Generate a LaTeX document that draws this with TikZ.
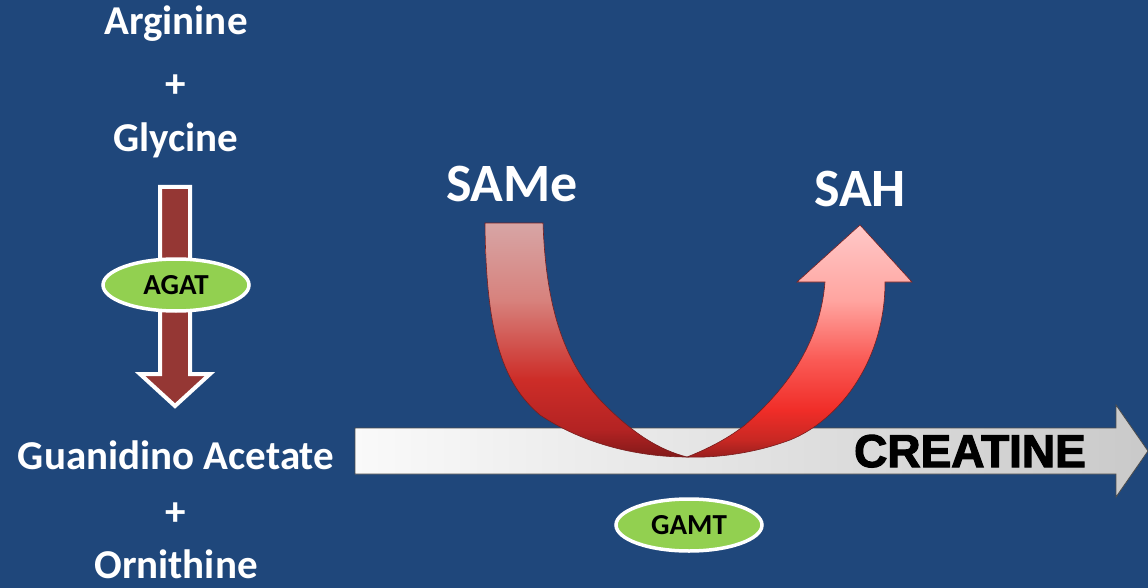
\documentclass[tikz,border=0pt]{standalone}
\usepackage{fontspec}
\setmainfont{Carlito}
\newfontfamily\heavyfont[BoldFeatures={FakeBold=2.5}]{Liberation Sans}
\usetikzlibrary{shapes.geometric}
\definecolor{bg}{HTML}{1F477B}
\definecolor{agatred}{HTML}{953734}
\definecolor{enzgreen}{HTML}{92D050}
\definecolor{ribedge}{RGB}{120,30,30}
\definecolor{lc1}{RGB}{215,165,165}
\definecolor{lc2}{RGB}{215,130,125}
\definecolor{lc3}{RGB}{205,45,40}
\definecolor{lc4}{RGB}{180,35,35}
\definecolor{lc5}{RGB}{130,25,25}
\definecolor{rc1}{RGB}{255,200,200}
\definecolor{rc2}{RGB}{255,165,160}
\definecolor{rc3}{RGB}{250,90,85}
\definecolor{rc4}{RGB}{240,45,40}
\definecolor{rc5}{RGB}{200,40,35}
\definecolor{rc6}{RGB}{150,30,30}
\pgfdeclareverticalshading{leftrib}{100bp}{color(0bp)=(lc5); color(25bp)=(lc5); color(31bp)=(lc4); color(41.6bp)=(lc3); color(58.6bp)=(lc2); color(75bp)=(lc1); color(100bp)=(lc1)}
\pgfdeclareverticalshading{rightrib}{100bp}{color(0bp)=(rc6); color(25bp)=(rc6); color(28.9bp)=(rc5); color(35.3bp)=(rc4); color(46bp)=(rc3); color(58.9bp)=(rc2); color(75bp)=(rc1); color(100bp)=(rc1)}
\tikzset{
  lbl/.style={text=white, font=\bfseries\fontsize{41}{45}\selectfont, inner sep=0pt},
  biglbl/.style={text=white, font=\bfseries\fontsize{54}{58}\selectfont, inner sep=0pt},
  enzyme/.style={ellipse, fill=enzgreen, draw=white, line width=3.5pt, minimum width=146pt, minimum height=52pt, inner sep=0pt, font=\bfseries\fontsize{29}{31}\selectfont, text=black},
  ribline/.style={draw=ribedge, line width=0.6pt, line join=miter},
}
\begin{document}
\begin{tikzpicture}[x=1pt,y=-1pt]
\fill[bg] (0,0) rectangle (1148,588);
\useasboundingbox (0,0) rectangle (1148,588);

% left column labels
\node[lbl, anchor=base] (arg) at (176,35) {Arginine};
\node[lbl] (plus1) at (176,86) {+};
\node[lbl, anchor=base] (gly) at (176,152) {Glycine};
\node[lbl, anchor=base] (gaa) at (176,469) {Guanidino Acetate};
\node[lbl] (plus2) at (176,514) {+};
\node[lbl, anchor=base] (orn) at (176,578) {Ornithine};

% AGAT arrow
\draw[fill=agatred, draw=white, line width=4pt, line join=miter]
  (160,187) -- (190,187) -- (190,374) -- (210,374) -- (175,406) -- (140,374) -- (160,374) -- cycle;
\node[enzyme] (agat) at (176,285) {AGAT};

% creatine arrow
\shade[left color=gray!4, right color=gray!42]
  (355,428) -- (1116,428) -- (1116,405) -- (1148,451) -- (1116,497) -- (1116,474) -- (355,474) -- cycle;
\draw[black!70, line width=0.8pt, line join=miter]
  (355,428) -- (1116,428) -- (1116,405) -- (1148,451) -- (1116,497) -- (1116,474) -- (355,474) -- cycle;

% curved ribbon: left strand
\shade[shading=leftrib]
  (485,223) .. controls (486,340) and (505,385) .. (540,415)
  .. controls (585,445) and (640,457) .. (687,457)
  .. controls (660,450) and (635,435) .. (605,405)
  .. controls (565,365) and (546,310) .. (543,223) -- cycle;
\draw[ribline]
  (485,223) .. controls (486,340) and (505,385) .. (540,415)
  .. controls (585,445) and (640,457) .. (687,457)
  .. controls (660,450) and (635,435) .. (605,405)
  .. controls (565,365) and (546,310) .. (543,223) -- cycle;
% right strand with head
\shade[shading=rightrib]
  (687,457) .. controls (710,458) and (750,455) .. (790,440)
  .. controls (840,420) and (885,360) .. (885,282)
  -- (912,282) -- (860,225) -- (797,282) -- (825,282)
  .. controls (820,345) and (785,390) .. (745,425)
  .. controls (730,437) and (710,448) .. (687,457) -- cycle;
\draw[ribline]
  (687,457) .. controls (710,458) and (750,455) .. (790,440)
  .. controls (840,420) and (885,360) .. (885,282)
  -- (912,282) -- (860,225) -- (797,282) -- (825,282)
  .. controls (820,345) and (785,390) .. (745,425)
  .. controls (730,437) and (710,448) .. (687,457) -- cycle;

\node[text=black, inner sep=0pt, anchor=base, font=\heavyfont\bfseries\fontsize{46}{50}\selectfont] (creat) at (970,467) {CREATINE};

\node[biglbl, anchor=base] (same) at (512,202) {SAMe};
\node[biglbl, anchor=base] (sah) at (860,207) {SAH};

\node[enzyme] (gamt) at (689,525) {GAMT};
\end{tikzpicture}
\end{document}
